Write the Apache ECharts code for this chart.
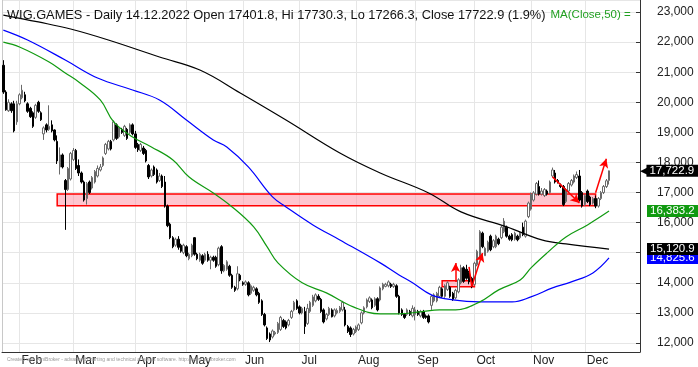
<!DOCTYPE html>
<html><head><meta charset="utf-8">
<script src="https://cdn.jsdelivr.net/npm/echarts@6/dist/echarts.min.js"></script>
<style>html,body{margin:0;padding:0;background:#fff}#c{width:698px;height:367px}</style>
</head><body><div id="c"></div>
<script>
// ---------- data ----------
const HOLIDAYS = ['2022-04-15','2022-04-18','2022-05-03','2022-06-16','2022-08-15','2022-11-01','2022-11-11','2022-12-26'];
const MONTHS = ['Jan','Feb','Mar','Apr','May','Jun','Jul','Aug','Sep','Oct','Nov','Dec'];
function buildDates(){
  const out=[]; let t=Date.UTC(2022,0,24); const end=Date.UTC(2022,11,30);
  while(t<=end){ const d=new Date(t); const wd=d.getUTCDay(); const s=d.toISOString().slice(0,10);
    if(wd!==0&&wd!==6&&!HOLIDAYS.includes(s)) out.push(s); t+=86400000; }
  return out;
}
const categories = buildDates();

const open = [21230,20340,19720,19950,19950,19350,19950,20150,20250,19950,19800,19650,19500,20000,19650,18950,19250,19100,19250,19080,
18700,17850,18250,17400,17100,17450,18100,18400,17900,17650,17350,16800,17350,17150,17350,17550,17750,17900,18300,18450,
18700,18750,19250,18850,19100,18900,19100,19000,19250,18950,18600,18400,18480,18400,17900,17550,17850,17750,17400,17550,
17350,16550,15950,15500,15250,15450,15250,15000,15200,14800,14900,15500,14950,14750,14900,14750,14950,14750,14850,14850,
14600,15200,14400,14450,14550,14250,13850,13800,14250,14000,13950,14000,13650,13750,13800,13650,13400,12950,12500,12300,
12200,12300,12350,12450,12750,12700,12600,12850,13100,13400,13200,13000,13050,12650,13050,13250,13400,13550,13450,13100,
12800,12950,13100,12900,13000,13050,13100,13100,12550,12500,12300,12380,12450,12670,13000,13200,13380,13430,13250,13470,
13430,13800,13880,13900,13950,13880,13900,13550,13100,12950,12950,13050,12900,12950,13050,12900,13050,12900,12900,13250,
13400,13400,13550,13800,13550,13780,13850,13650,13500,13700,14000,14500,14450,14350,14150,13950,14600,14850,15650,14900,
15050,15550,15200,15200,15450,15500,15700,15850,15550,15600,15450,15550,15500,15850,15550,16200,16450,16750,16950,17200,
16950,16900,17050,17000,17550,17650,17400,17250,17200,16700,17050,17250,17350,17500,17550,17000,16600,17050,16850,16650,
16800,16550,16800,17000,17200,17401.8];
const high = [21400,20400,20100,20000,20050,20050,20300,20580,20350,20000,19850,19700,19950,20050,19700,19200,19300,19900,19400,19100,
18900,18500,18300,17450,17850,18350,18480,18450,18100,17700,17400,17350,17400,17550,17750,17900,17950,18200,18650,18750,
18750,19400,19300,19200,19150,19250,19150,19300,19300,19050,18650,18650,18550,18450,17950,17800,17900,17800,17650,17600,
17550,16600,16000,15550,15500,15550,15300,15300,15250,15000,15300,15520,15000,15000,14950,15000,15050,14900,14900,14900,
15200,15250,14620,14750,14600,14300,13900,14550,14300,14050,14080,14050,13950,13900,13850,13700,13450,13000,12550,12350,
12450,12400,12700,12900,12800,12750,12800,13100,13400,13450,13250,13200,13200,13300,13400,13600,13650,13620,13500,13150,
13000,13200,13150,13150,13150,13230,13400,13200,12600,12550,12500,12580,12650,13050,13220,13480,13550,13480,13520,13520,
13880,14000,14000,14080,14000,14000,13950,13600,13150,13000,13150,13100,13250,13200,13100,13100,13100,12950,12950,13600,
13650,13700,13900,13850,13950,14050,13900,13700,13800,14150,14600,14550,14600,14400,14200,14700,15100,15750,15700,15200,
15400,15600,15450,15600,15500,15900,16150,15900,15600,15650,15700,15600,15700,16000,16100,16700,17000,17050,17350,17400,
17150,17150,17100,17400,17830,17750,17450,17300,17250,17150,17350,17450,17600,17700,17750,17050,16950,17100,16900,16850,
16900,16850,17050,17250,17450,17730.3];
const low = [20280,19720,19680,19650,19000,19250,19900,20100,20000,19650,19480,19150,19450,19650,19380,18750,19000,19050,19000,18700,
17950,17600,17800,15760,17050,17400,18050,17750,17550,17300,16700,16600,16950,17100,17300,17500,17700,17850,18250,18400,
18400,18700,18750,18800,18950,18850,18750,18950,18900,18450,18350,18350,18250,18000,17450,17500,17550,17300,17350,17150,
16500,15850,15450,15150,15200,15100,15000,14950,14850,14750,14850,14900,14750,14700,14600,14700,14700,14450,14700,14500,
14550,14300,14350,14400,14200,13800,13700,13750,14050,13900,13900,13550,13600,13700,13550,13300,12900,12550,12100,12030,
12150,12250,12300,12400,12500,12450,12550,12800,13050,13100,12950,12950,12300,12600,13000,13200,13350,13400,13000,12650,
12750,12900,12850,12850,12950,13000,13050,12550,12330,12200,12250,12330,12400,12620,12950,13150,13330,13120,13200,13050,
13380,13750,13850,13850,13830,13830,13500,12950,12900,12800,12900,12900,12850,12750,12900,12850,12800,12800,12650,13100,
13350,13350,13500,13500,13500,13730,13500,13400,13450,13650,13950,14000,14100,13950,13820,13900,14550,14800,15150,14900,
15000,15050,15150,15150,15250,15450,15650,15500,15400,15380,15400,15380,15450,15550,15500,16150,16400,16700,16900,16900,
16900,16850,16900,16950,17500,17300,17300,17150,16550,16650,17000,17200,17300,17450,16700,16500,16550,16650,16550,16600,
16480,16500,16750,16950,17150,17266.3];
const close = [20340,19750,20000,19720,19050,19950,20250,20400,20050,19700,19520,19200,19900,19700,19420,19150,19080,19200,19050,18750,
18050,18250,17850,17100,17800,18300,18400,17800,17650,17350,16750,17300,17000,17500,17700,17800,17850,18150,18600,18700,
18450,19350,18800,19150,19000,19200,18800,19250,18950,18500,18420,18600,18300,18050,17520,17750,17600,17350,17550,17200,
16550,15900,15500,15200,15450,15180,15050,15250,14900,14950,15250,14950,14800,14950,14650,14950,14750,14850,14750,14550,
15150,14400,14580,14700,14250,13850,13750,14300,14100,13950,14030,13600,13900,13850,13600,13350,12950,12600,12150,12100,
12400,12350,12650,12850,12550,12500,12750,13050,13350,13150,13000,13150,12550,13150,13350,13530,13600,13450,13050,12700,
12950,13150,12870,13100,13080,13180,13350,12600,12380,12280,12450,12530,12600,13000,13170,13430,13500,13170,13470,13100,
13830,13950,13950,14030,13880,13950,13550,13000,12950,12850,13100,12950,13150,13100,12950,13050,12850,12850,12700,13550,
13600,13650,13850,13550,13900,14000,13550,13450,13750,14100,14500,14050,14150,14030,13870,14650,15050,15700,15200,15150,
15350,15100,15400,15550,15300,15850,16050,15550,15450,15430,15650,15430,15650,15600,16050,16650,16950,16990,17300,16950,
17050,17100,16950,17350,17750,17350,17350,17200,16600,17100,17300,17400,17550,17600,16750,16550,16900,16700,16600,16800,
16550,16800,17000,17200,17392,17722.9];

// moving averages: [index, value]
const ma50Pts = [[0,22000],[6,21837],[17,21339],[23,20974],[28,20675],[36,20077],[41,19346],[48,18848],[55,18516],[63,18084],
[69,17519],[78,16987],[85,16522],[93,15858],[98,15194],[102,14662],[111,13998],[120,13665],[130,13200],[140,12967],[147,12967],
[155,13034],[162,13100],[168,13100],[177,13366],[184,13765],[192,14097],[196,14495],[202,14994],[209,15526],[217,15924],[225,16383.2]];
const ma100Pts = [[0,22400],[9,22070],[23,21405],[35,20807],[48,20409],[58,20077],[68,19412],[78,18748],[83,18516],[91,17851],
[100,16854],[105,16522],[115,15924],[125,15426],[140,14662],[147,14263],[152,14000],[159,13599],[167,13433],[177,13366],[189,13366],
[196,13532],[204,13831],[211,14030],[219,14329],[225,14825.6]];
const ma200Pts = [[0,22900],[13,22670],[25,22435],[39,22070],[58,21505],[73,21073],[88,20310],[105,19412],[125,18316],[140,17652],
[158,16987],[170,16356],[187,15858],[200,15426],[209,15293],[225,15120.9]];

// last values shown on the right
const lastClose = 17722.9, lastMA50 = 16383.2, lastMA200 = 15120.9, lastMA100 = 14825.6;

// zones [startIdx, endIdx, top, bottom]
const zones = [[20,220,16950,16560],[163,175,14065,13865]];
// arrows [[i0,v0],[i1,v1], withHead]
const arrows = [
  [[168,14030],[168,14660],true],
  [[173,14530],[174,13870],false],
  [[174,13870],[178,14990],true],
  [[204,17520],[214,16650],true],
  [[220,16990],[224,18120],true]
];

// ---------- build ----------
const N = categories.length;
const candleData = open.map((o,i)=>[o, close[i], low[i], high[i]]);
function expand(pts){ const a=new Array(N).fill(null); pts.forEach(p=>a[p[0]]=p[1]); return a; }
const isMonthStart = categories.map((d,i)=> i>0 && d.slice(5,7)!==categories[i-1].slice(5,7));
const fmt = v => v.toLocaleString('en-US',{minimumFractionDigits:1,maximumFractionDigits:1});

const FONT = 'Liberation Sans, Arial, sans-serif';
const Y_MIN = 11700, Y_MAX = 23400;

function valLabel(v, bg, pointer){
  return { yAxis: v, symbol:'none', lineStyle:{color:'rgba(0,0,0,0)', width:0},
    label:{ show:true, position:'end', distance: pointer?0:7, opacity:1,
      formatter: pointer ? '{p|◀}{b|'+fmt(v)+'}' : '{b|'+fmt(v)+'}',
      rich:{ p:{color:'#000', fontSize:11, fontFamily:'DejaVu Sans', lineHeight:10, padding:[0,-2,0,0], opacity:1},
             b:{backgroundColor:bg, color:'#fff', fontSize:11.5, fontFamily:FONT, padding:[0,4,0,3], lineHeight: pointer?10:8.5, opacity:1} } } };
}

const chart = echarts.init(document.getElementById('c'), null, {renderer:'canvas'});
chart.setOption({
  animation:false,
  backgroundColor:'#fff',
  title:[{
    left:2, top:1,
    text:'{a|WIG.GAMES - Daily 14.12.2022 Open 17401.8, Hi 17730.3, Lo 17266.3, Close 17722.9 (1.9%)} {g|MA(Close,50) =}',
    textStyle:{ fontWeight:'normal', rich:{ a:{color:'#111', fontSize:12.8, fontWeight:'normal', fontFamily:FONT},
                                            g:{color:'#22a022', fontSize:11.5, fontWeight:'normal', fontFamily:FONT} } }
  },{
    left:2, bottom:0,
    text:'Created with AmiBroker - advanced charting and technical analysis software. http://www.amibroker.com',
    textStyle:{color:'#999', fontSize:5, fontWeight:'normal', fontFamily:FONT}
  }],
  grid:{left:2, right:58, top:0, bottom:15},
  xAxis:{ type:'category', data:categories, boundaryGap:true,
    axisLine:{lineStyle:{color:'#333'}},
    axisTick:{alignWithLabel:true, interval:(i)=>isMonthStart[i], length:5, lineStyle:{color:'#333'}},
    axisLabel:{interval:(i)=>isMonthStart[i], formatter:(v)=>MONTHS[+v.slice(5,7)-1], align:'left', margin:3, padding:[0,0,0,2],
      color:'#222', fontSize:12, fontFamily:FONT},
    splitLine:{show:true, alignWithLabel:true, interval:(i)=>isMonthStart[i], lineStyle:{color:'#e6e6e6'}}
  },
  yAxis:[{ type:'value', position:'right', min:Y_MIN, max:Y_MAX, splitNumber:11, scale:true,
    axisLine:{show:true, lineStyle:{color:'#333'}},
    axisTick:{show:true, inside:true, length:4, lineStyle:{color:'#333'}},
    axisLabel:{margin:17, color:'#222', fontSize:12, fontFamily:FONT, showMinLabel:false, showMaxLabel:false,
      formatter:(v)=>v.toLocaleString('en-US')},
    splitLine:{show:true, lineStyle:{color:'#e6e6e6'}}
  },{ type:'value', position:'left', min:Y_MIN, max:Y_MAX,
    axisLine:{show:true, lineStyle:{color:'#c8c8c8'}}, axisTick:{show:false}, axisLabel:{show:false}, splitLine:{show:false}
  }],
  series:[
    { type:'candlestick', name:'WIG.GAMES', data:candleData, barWidth:2, z:3,
      itemStyle:{color:'#ffffff', color0:'#000000', borderColor:'#6a6a6a', borderColor0:'#000000', borderWidth:1},
      markArea:{ silent:true, z:1,
        itemStyle:{color:'rgba(255,140,160,0.5)', borderColor:'#ff0000', borderWidth:1.5},
        data: zones.map(z=>[{xAxis:categories[z[0]], yAxis:z[2]},{xAxis:categories[z[1]], yAxis:z[3]}]) },
      markLine:{ silent:true, symbol:['none','arrow'], symbolSize:[7,9], label:{show:false},
        lineStyle:{color:'#ff0000', width:1.5, type:'solid'},
        data: arrows.map(a=>[
          {coord:[categories[a[0][0]], a[0][1]], symbol:'none'},
          {coord:[categories[a[1][0]], a[1][1]], symbol: a[2]?'arrow':'none'}]) }
    },
    { type:'line', name:'MA200', data:expand(ma200Pts), connectNulls:true, smooth:0.4, showSymbol:false, z:4,
      lineStyle:{color:'#000', width:1.2}, itemStyle:{color:'#000'} },
    { type:'line', name:'MA100', data:expand(ma100Pts), connectNulls:true, smooth:0.4, showSymbol:false, z:4,
      lineStyle:{color:'#0000ff', width:1.2}, itemStyle:{color:'#0000ff'} },
    { type:'line', name:'MA50', data:expand(ma50Pts), connectNulls:true, smooth:0.4, showSymbol:false, zlevel:1, z:4, clip:false,
      lineStyle:{color:'#109a10', width:1.2}, itemStyle:{color:'#109a10'},
      markLine:{ silent:true, symbol:'none', z:10, data:[
        valLabel(lastMA100,'#0000ff',false), valLabel(lastMA200,'#000',false),
        valLabel(lastMA50,'#109a10',false), valLabel(lastClose,'#000',true)] } }
  ]
});
</script></body></html>
